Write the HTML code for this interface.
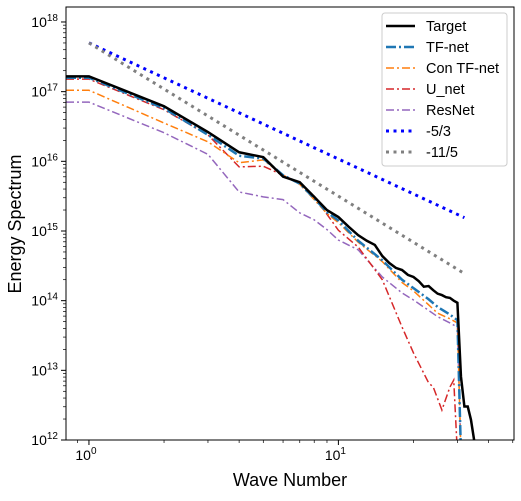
<!DOCTYPE html>
<html><head><meta charset="utf-8"><style>
body{margin:0;background:#fff;}
svg{font-family:"Liberation Sans","DejaVu Sans",sans-serif;}
</style></head><body>
<svg id="chart" width="521" height="496" viewBox="0 0 521 496">
<g id="marks"></g>
<g id="axes"></g>
<text x="290" y="486" font-size="18" text-anchor="middle">Wave Number</text>
<text x="0" y="0" font-size="18" text-anchor="middle" transform="translate(21,224) rotate(-90)">Energy Spectrum</text>
<g id="legend"></g>
</svg>
<script>
const kTarget=[1,2,3,4,5,6,7,8,9,10,11,12,13,14,15,16,17,18,19,20,21,22,23,24,25,26,27,28,29,30,31,32,33,34,35,36];
const target=[17.22,16.79,16.42,16.13,16.06,15.78,15.70,15.49,15.30,15.20,15.06,14.94,14.86,14.80,14.64,14.54,14.47,14.44,14.37,14.34,14.28,14.20,14.21,14.15,14.10,14.08,14.05,14.04,14.00,13.97,12.91,12.48,12.48,12.29,12.0,11.7];
const kModel=[1,2,3,4,5,6,7,8,9,10,12,15,18,20,23,25,28,30,31];
const tfnet=[17.2,16.76,16.38,16.08,16.04,15.80,15.68,15.47,15.27,15.15,14.86,14.58,14.30,14.18,14.02,13.91,13.80,13.72,11.8];
const contf=[17.02,16.55,16.28,15.98,16.02,15.80,15.67,15.45,15.25,15.12,14.84,14.56,14.26,14.14,13.94,13.82,13.74,13.68,11.8];
const unetK=[1,2,3,4,5,6,7,8,9,10,12,15,18,20,23,24,26,28,29,30];
const unet=[17.18,16.74,16.38,15.92,15.93,15.80,15.69,15.50,15.24,15.01,14.77,14.30,13.62,13.25,12.82,12.76,12.43,12.76,12.86,11.8];
const resnet=[16.85,16.41,16.10,15.56,15.49,15.45,15.26,15.16,15.02,14.87,14.73,14.34,14.11,14.01,13.86,13.77,13.68,13.62,11.8];
const refK=[1,32];
const yTicks=[12,13,14,15,16,17,18];
const xTicks=[0,1];
const NS="http://www.w3.org/2000/svg";
const L=66,R=514,T=7,B=440;
const xmin=-0.092,xmax=1.704,ymin=12,ymax=18.215;
const X=k=>L+(Math.log10(k)-xmin)/(xmax-xmin)*(R-L);
const Y=v=>B-(v-ymin)/(ymax-ymin)*(B-T);
function mk(tag,attrs,parent){const e=document.createElementNS(NS,tag);for(const a in attrs)e.setAttribute(a,attrs[a]);parent.appendChild(e);return e;}
const marks=document.getElementById('marks'),axes=document.getElementById('axes'),leg=document.getElementById('legend');
mk('clipPath',{id:'clip'},marks).appendChild(Object.assign(document.createElementNS(NS,'rect'),{}));
const cr=marks.querySelector('clipPath rect');cr.setAttribute('x',L);cr.setAttribute('y',T);cr.setAttribute('width',R-L);cr.setAttribute('height',B-T);
const series=[
 {name:'Target',k:kTarget,v:target,color:'#000',w:2.5,dash:'',dn:'series-target'},
 {name:'TF-net',k:kModel,v:tfnet,color:'#1f77b4',w:2.5,dash:'10,3,2,3',dn:'series-tf-net'},
 {name:'Con TF-net',k:kModel,v:contf,color:'#ff7f0e',w:1.5,dash:'8,3,2,3',dn:'series-con-tf-net'},
 {name:'U_net',k:unetK,v:unet,color:'#d62728',w:1.5,dash:'8,3,2,3',dn:'series-u-net'},
 {name:'ResNet',k:kModel,v:resnet,color:'#9467bd',w:1.5,dash:'8,3,2,3',dn:'series-resnet'}
];
const order=[4,3,2,1,0];
order.forEach(i=>{const s=series[i];
 let pts=[[L,Y(s.v[0])]];
 s.k.forEach((k,j)=>pts.push([X(k),Y(s.v[j])]));
 const p=mk('polyline',{points:pts.map(p=>p.join(',')).join(' '),fill:'none',stroke:s.color,'stroke-width':s.w,'stroke-dasharray':s.dash,'clip-path':'url(#clip)'},marks);
 
 
});
const refs=[{slope:-5/3,color:'#0000ff',dn:'reference-line-5-3',name:'-5/3'},{slope:-11/5,color:'#808080',dn:'reference-line-11-5',name:'-11/5'}];
refs.forEach(r=>{const v0=17.7;
 const l=mk('line',{x1:X(refK[0]),y1:Y(v0+r.slope*Math.log10(refK[0])),x2:X(refK[1]),y2:Y(v0+r.slope*Math.log10(refK[1])),stroke:r.color,'stroke-width':3,'stroke-dasharray':'3,4.5'},marks);
 
 
});
// frame
const fr=mk('rect',{x:L,y:T,width:R-L,height:B-T,fill:'none',stroke:'#000','stroke-width':1},axes);


yTicks.forEach(e=>{const y=Y(e);
 mk('line',{x1:L-5,y1:y,x2:L,y2:y,stroke:'#000'},axes);
 const t=mk('text',{x:L-8,y:y+5,'font-size':14,'text-anchor':'end'},axes);
 
 
 t.innerHTML='10<tspan dy="-6" font-size="10">'+e+'</tspan>';
 for(let m=2;m<10;m++){const ym=Y(e+Math.log10(m));if(ym>=T)mk('line',{x1:L-3,y1:ym,x2:L,y2:ym,stroke:'#000','stroke-width':0.7},axes);}
});
xTicks.forEach(e=>{const x=X(Math.pow(10,e));
 mk('line',{x1:x,y1:B,x2:x,y2:B+5,stroke:'#000'},axes);
 const t=mk('text',{x:x-3,y:B+20,'font-size':14,'text-anchor':'middle'},axes);
 
 
 t.innerHTML='10<tspan dy="-6" font-size="10">'+e+'</tspan>';
});
for(let d=-1;d<=1;d++)for(let m=2;m<10;m++){const x=X(m*Math.pow(10,d));if(x>L&&x<R)mk('line',{x1:x,y1:B,x2:x,y2:B+3,stroke:'#000','stroke-width':0.7},axes);}
// legend
const lb=mk('rect',{x:382,y:13,width:125,height:153,rx:3,fill:'#fff',stroke:'#ccc','stroke-width':1},leg);


const legItems=series.map(s=>({name:s.name,color:s.color,w:s.w,dash:s.dash})).concat(refs.map(r=>({name:r.name,color:r.color,w:3,dash:'3,4.5'})));
legItems.forEach((it,i)=>{const y=26+i*21;
 mk('line',{x1:386,y1:y,x2:415,y2:y,stroke:it.color,'stroke-width':it.w,'stroke-dasharray':it.dash},leg);
 const t=mk('text',{x:426,y:y+5,'font-size':14.5},leg);
 t.textContent=it.name;
 
 
});
</script>
</body></html>
